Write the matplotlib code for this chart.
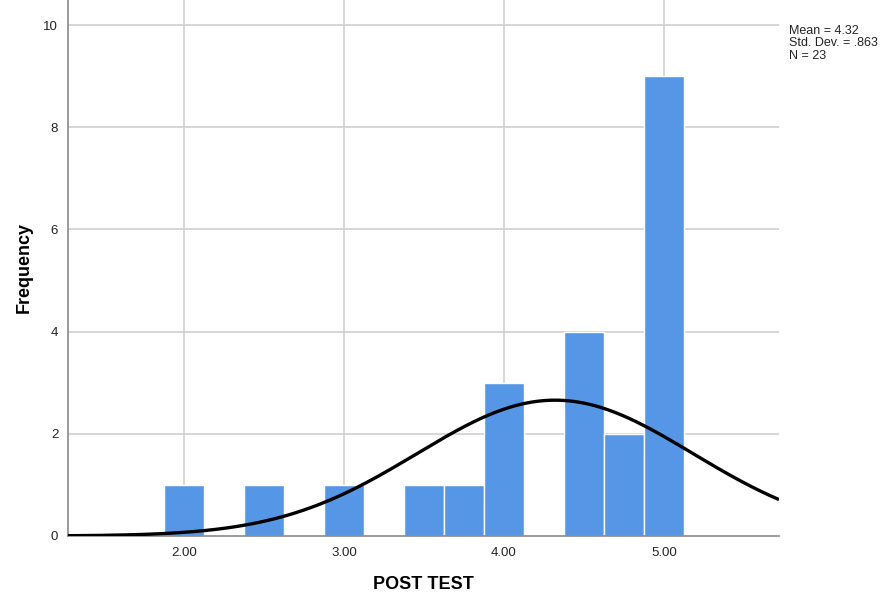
#!/usr/bin/env python3

import numpy as np
import matplotlib
matplotlib.use('Agg')
import matplotlib.pyplot as plt

# Histogram data (bin centres and frequencies)
bin_centers = [2.00, 2.50, 3.00, 3.50, 3.75, 4.00, 4.50, 4.75, 5.00]
counts = [1, 1, 1, 1, 1, 3, 4, 2, 9]
bin_width = 0.25

mean = 4.32
std_dev = 0.863
n = 23

x_ticks = [2.0, 3.0, 4.0, 5.0]
x_tick_labels = ['2.00', '3.00', '4.00', '5.00']
y_ticks = [0, 2, 4, 6, 8, 10]

plt.rcParams['font.family'] = ['Liberation Sans', 'DejaVu Sans']

fig = plt.figure(figsize=(8.85, 5.98), dpi=100)
ax = fig.add_axes([0.0768, 0.1037, 0.8034, 0.8963])

# Grid
for xt in x_ticks:
    ax.axvline(xt, color='#cfcfcf', lw=1.2, zorder=0)
for yt in y_ticks[1:]:
    ax.axhline(yt, color='#cfcfcf', lw=1.2, zorder=0)

ax.bar(bin_centers, counts, width=bin_width, color='#5597e6',
       edgecolor='white', linewidth=1.0, zorder=2)

# Normal curve scaled to the histogram
xs = np.linspace(1.275, 5.72, 400)
ys = n * bin_width / (std_dev * np.sqrt(2 * np.pi)) * np.exp(-0.5 * ((xs - mean) / std_dev) ** 2)
ax.plot(xs, ys, color='black', lw=2.4, zorder=3, solid_capstyle='butt')

ax.set_xlim(1.275, 5.72)
ax.set_ylim(0, 10.49)
ax.set_xticks(x_ticks)
ax.set_xticklabels(x_tick_labels)
ax.set_yticks(y_ticks)
ax.tick_params(length=0, labelsize=9.5, colors='#222222', pad=7)
ax.tick_params(axis='x', pad=8)

for s in ['top', 'right']:
    ax.spines[s].set_visible(False)
for s in ['left', 'bottom']:
    ax.spines[s].set_color('#8a8a8a')
    ax.spines[s].set_linewidth(1.2)

ax.set_xlabel('POST TEST', fontsize=13, fontweight='bold', labelpad=12)
ax.set_ylabel('Frequency', fontsize=13, fontweight='bold', labelpad=8)

fig.text(789 / 885, 1 - 25 / 598,
         'Mean = %.2f\nStd. Dev. = .%03d\nN = %d' % (mean, round(std_dev * 1000), n),
         fontsize=9, va='top', ha='left', color='#222222', linespacing=1.05)

fig.savefig('out.png', dpi=100)
